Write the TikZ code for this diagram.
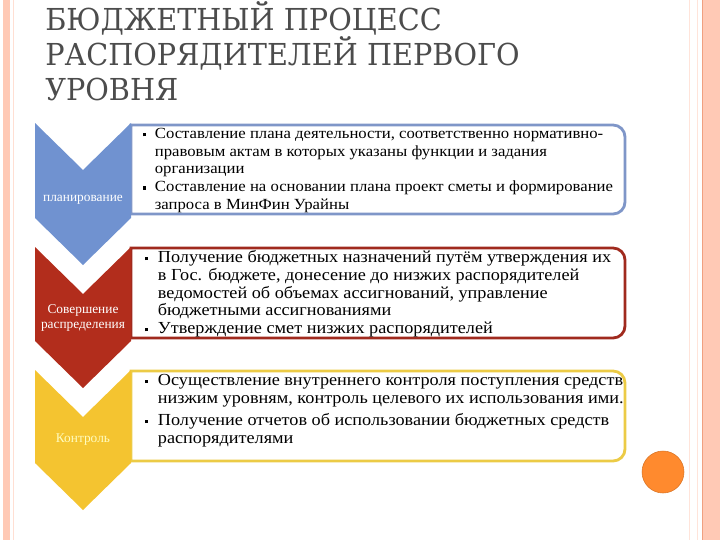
\documentclass[tikz,border=0pt]{standalone}
\usepackage{fontspec}
\usepackage{tikz}
\setmainfont{Liberation Serif}
\newfontfamily\titlefont{DejaVu Serif}[FakeStretch=0.95]
\newfontfamily\bodyfont{Liberation Serif}[FakeStretch=1.08]
\definecolor{salmon}{RGB}{255,201,181}
\definecolor{salmonline}{RGB}{240,160,128}
\definecolor{planblue}{RGB}{112,146,208}
\definecolor{planframe}{RGB}{127,150,200}
\definecolor{distred}{RGB}{178,45,28}
\definecolor{distframe}{RGB}{160,42,30}
\definecolor{ctrlyellow}{RGB}{244,196,48}
\definecolor{ctrlframe}{RGB}{236,203,70}
\definecolor{dotorange}{RGB}{255,138,46}
\newcommand{\blt}{\makebox[0.75em][l]{\raisebox{0.3ex}{\rule{2.2pt}{2.2pt}}}}
\newcommand{\ind}{\hspace*{0.75em}}

\begin{document}
\begin{tikzpicture}[x=0.025cm, y=-0.025cm,
  titleline/.style={anchor=base west, inner sep=0pt, text=black!70, font=\titlefont\fontsize{21.5}{24}\selectfont},
  frame/.style={line width=2pt, rounded corners=8.5pt},
  itemtext/.style={anchor=north west, inner sep=0pt, align=left},
  steplabel/.style={align=center, inner sep=0pt, text=white, font=\rmfamily\fontsize{9.5}{10.5}\selectfont}]
\useasboundingbox (0,0) rectangle (720,540);
\fill[salmon] (3,0) rectangle (10,540);
\draw[salmon!60, line width=0.4pt] (13,0) -- (13,540);
\draw[salmon!50, line width=0.4pt] (689,0) -- (689,540);
\draw[salmon!50, line width=0.4pt] (697,0) -- (697,540);
\fill[salmon] (702,0) rectangle (720,540);
\draw[salmonline, line width=0.6pt] (702,0) -- (702,540);
\node[titleline] (title1) at (45,30) {БЮДЖЕТНЫЙ ПРОЦЕСС};
\node[titleline] (title2) at (45,65) {РАСПОРЯДИТЕЛЕЙ ПЕРВОГО};
\node[titleline] (title3) at (45,100) {УРОВНЯ};
\draw[frame, draw=planframe, fill=white] (131,214) [sharp corners] -- (131,125) [rounded corners=8.5pt] -- (625,125) -- (625,214) [sharp corners] -- (131,214);
\draw[frame, draw=distframe, fill=white] (131,338) [sharp corners] -- (131,248) [rounded corners=8.5pt] -- (625,248) -- (625,338) [sharp corners] -- (131,338);
\draw[frame, draw=ctrlframe, fill=white] (131,461) [sharp corners] -- (131,371) [rounded corners=8.5pt] -- (625,371) -- (625,461) [sharp corners] -- (131,461);
\fill[planblue] (35,123) -- (83,170) -- (131,123) -- (131,218) -- (83,265) -- (35,218) -- cycle;
\fill[distred] (35,247) -- (83,294) -- (131,247) -- (131,341) -- (83,388) -- (35,341) -- cycle;
\fill[ctrlyellow] (35,370) -- (83,417) -- (131,370) -- (131,463) -- (83,510) -- (35,463) -- cycle;
\node[steplabel] (plan) at (83,200) {планирование};
\node[steplabel] (dist) at (83,318) {Совершение\\распределения};
\node[steplabel, text=yellow!25] (ctrl) at (83,440) {Контроль};
\node[itemtext, font=\bodyfont\fontsize{11}{12.6}\selectfont] (plantext) at (143,128) {\blt Составление плана деятельности, соответственно нормативно-\\\ind правовым актам в которых указаны функции и задания\\\ind организации\\\blt Составление на основании плана проект сметы и формирование\\\ind запроса в МинФин Урайны};
\node[itemtext, font=\bodyfont\fontsize{12}{12.7}\selectfont] (disttext) at (145,250) {\blt Получение бюджетных назначений путём утверждения их\\\ind в Гос. бюджете, донесение до низжих распорядителей\\\ind ведомостей об объемах ассигнований, управление\\\ind бюджетными ассигнованиями\\\blt Утверждение смет низжих распорядителей};
\node[itemtext, font=\bodyfont\fontsize{12}{13}\selectfont] (ctrltext) at (145,374) {\blt Осуществление внутреннего контроля поступления средств\\\ind низжим уровням, контроль целевого их использования ими.\\[2.5pt]\blt Получение отчетов об использовании бюджетных средств\\\ind распорядителями};
\filldraw[fill=dotorange, draw=dotorange!85!black, line width=0.4pt] (663,472) circle (21);
\end{tikzpicture}
\end{document}
